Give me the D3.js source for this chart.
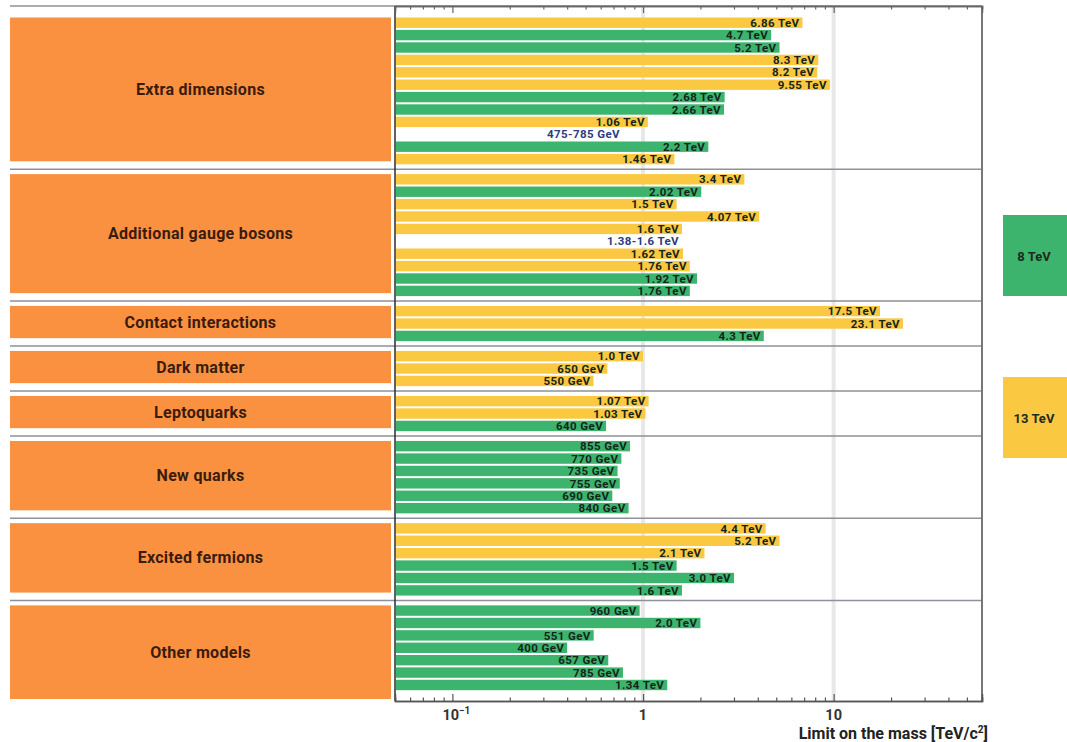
<!DOCTYPE html>
<html>
<head>
<meta charset="utf-8">
<script src="https://cdn.jsdelivr.net/npm/d3@7"></script>
<style>
  body { margin: 0; background: #fff; }
  text { font-family: Roboto, "Liberation Sans", sans-serif; }
</style>
</head>
<body>
<div id="chart"></div>
<script>
// categories and how many limits each one has
var sectionNames = ["Extra dimensions", "Additional gauge bosons", "Contact interactions",
  "Dark matter", "Leptoquarks", "New quarks", "Excited fermions", "Other models"];
var sectionSizes = [12, 10, 3, 3, 3, 6, 6, 7];

// mass limits in TeV (flat, in the order shown, top to bottom)
var masses = [6.86, 4.7, 5.2, 8.3, 8.2, 9.55, 2.68, 2.66, 1.06, 0.785, 2.2, 1.46,
  3.4, 2.02, 1.5, 4.07, 1.6, 1.6, 1.62, 1.76, 1.92, 1.76,
  17.5, 23.1, 4.3,
  1.0, 0.65, 0.55,
  1.07, 1.03, 0.64,
  0.855, 0.77, 0.735, 0.755, 0.69, 0.84,
  4.4, 5.2, 2.1, 1.5, 3.0, 1.6,
  0.96, 2.0, 0.551, 0.4, 0.657, 0.785, 1.34];

// collision energy: 13 or 8 TeV, 0 = excluded range
var energies = [13, 8, 8, 13, 13, 13, 8, 8, 13, 0, 8, 13,
  13, 8, 13, 13, 13, 0, 13, 13, 8, 8,
  13, 13, 8,
  13, 13, 13,
  13, 13, 8,
  8, 8, 8, 8, 8, 8,
  13, 13, 13, 8, 8, 8,
  8, 8, 8, 8, 8, 8, 8];

var massLabels = ["6.86 TeV", "4.7 TeV", "5.2 TeV", "8.3 TeV", "8.2 TeV", "9.55 TeV", "2.68 TeV", "2.66 TeV", "1.06 TeV", "475-785 GeV", "2.2 TeV", "1.46 TeV",
  "3.4 TeV", "2.02 TeV", "1.5 TeV", "4.07 TeV", "1.6 TeV", "1.38-1.6 TeV", "1.62 TeV", "1.76 TeV", "1.92 TeV", "1.76 TeV",
  "17.5 TeV", "23.1 TeV", "4.3 TeV",
  "1.0 TeV", "650 GeV", "550 GeV",
  "1.07 TeV", "1.03 TeV", "640 GeV",
  "855 GeV", "770 GeV", "735 GeV", "755 GeV", "690 GeV", "840 GeV",
  "4.4 TeV", "5.2 TeV", "2.1 TeV", "1.5 TeV", "3.0 TeV", "1.6 TeV",
  "960 GeV", "2.0 TeV", "551 GeV", "400 GeV", "657 GeV", "785 GeV", "1.34 TeV"];

var legendLabels = ["8 TeV", "13 TeV"];
var majorTicks = [0.1, 1, 10];
var minorTicks = [0.05, 0.06, 0.07, 0.08, 0.09, 0.2, 0.3, 0.4, 0.5, 0.6, 0.7, 0.8, 0.9,
  2, 3, 4, 5, 6, 7, 8, 9, 20, 30, 40, 50, 60];

var svgWidth = 1067;
var svgHeight = 742;
var colors = { 8: "#3db46e", 13: "#fbc842", 0: "#ffffff" };
var orange = "#fa9141";

var plotLeft = 395, plotRight = 982, plotTop = 6, plotBottom = 701;
var pitch = 12.4, barH = 10.4, gapSlots = 0.63;

var svg = d3.select("#chart").append("svg")
  .attr("width", svgWidth)
  .attr("height", svgHeight);

svg.append("rect").attr("width", svgWidth).attr("height", svgHeight).attr("fill", "#fff");

// flatten into rows with slot positions
var rows = [];
var k = 0;
sectionSizes.forEach(function(n, s) {
  for (var j = 0; j < n; j++) {
    rows.push({ section: s, slot: k + s * gapSlots, mass: masses[k], energy: energies[k], label: massLabels[k] });
    k++;
  }
});
var totalSlots = rows.length + (sectionSizes.length - 1) * gapSlots;

var x = d3.scaleLog().domain([0.05, 60]).range([plotLeft, plotRight]);
var y = d3.scaleLinear().domain([0, totalSlots]).range([17.5, 17.5 + totalSlots * pitch]);

// grid lines at 1 and 10
svg.selectAll(".grid")
  .data([1, 10])
  .enter().append("rect")
  .attr("x", d => x(d) - 2)
  .attr("y", plotTop)
  .attr("width", 4)
  .attr("height", plotBottom - plotTop)
  .attr("fill", "#e8e8e8");

// section boxes and separators
var sections = sectionNames.map(function(name, s) {
  var r = rows.filter(d => d.section === s);
  return { name: name, top: y(r[0].slot), bottom: y(r[r.length - 1].slot) + barH };
});

var sepYs = [plotTop];
for (var s = 1; s < sections.length; s++) {
  sepYs.push((sections[s - 1].bottom + sections[s].top) / 2);
}

svg.selectAll(".sep")
  .data(sepYs)
  .enter().append("line")
  .attr("x1", 10).attr("x2", plotRight)
  .attr("y1", d => d).attr("y2", d => d)
  .attr("stroke", "#8e9199")
  .attr("stroke-width", 1.5);

var boxBottom = (d, i) => i === sections.length - 1 ? plotBottom - 2 : d.bottom - 3;

svg.selectAll(".cat")
  .data(sections)
  .enter().append("rect")
  .attr("x", 10)
  .attr("y", d => d.top)
  .attr("width", 381)
  .attr("height", (d, i) => boxBottom(d, i) - d.top)
  .attr("fill", orange);

svg.selectAll(".catLabel")
  .data(sections)
  .enter().append("text")
  .attr("x", 200.5)
  .attr("y", (d, i) => (d.top + boxBottom(d, i)) / 2)
  .attr("dy", "0.35em")
  .attr("text-anchor", "middle")
  .attr("font-size", "16px")
  .attr("font-weight", "bold")
  .attr("letter-spacing", "0.3px")
  .attr("fill", "#3a1c0c")
  .text(d => d.name);

// bars
svg.selectAll(".bar")
  .data(rows)
  .enter().append("rect")
  .attr("x", plotLeft + 1)
  .attr("y", d => y(d.slot))
  .attr("width", d => x(d.mass) - plotLeft - 1)
  .attr("height", barH)
  .attr("fill", d => colors[d.energy]);

svg.selectAll(".barLabel")
  .data(rows)
  .enter().append("text")
  .attr("x", d => x(d.mass) - 3)
  .attr("y", d => y(d.slot) + barH / 2)
  .attr("dy", "0.36em")
  .attr("text-anchor", "end")
  .attr("font-size", "11.5px")
  .attr("font-weight", "bold")
  .attr("letter-spacing", "0.4px")
  .attr("fill", d => d.energy === 0 ? "#2c3c80" : "#13251a")
  .text(d => d.label);

// frame
svg.append("line").attr("x1", plotRight).attr("x2", plotRight).attr("y1", plotTop).attr("y2", plotBottom)
  .attr("stroke", "#777").attr("stroke-width", 2);
svg.append("line").attr("x1", plotLeft).attr("x2", plotLeft).attr("y1", plotTop).attr("y2", plotBottom)
  .attr("stroke", "#2a2a3a").attr("stroke-width", 1.5);

// axes (ticks pointing inward)
var bottomMajor = d3.axisBottom(x).tickValues(majorTicks).tickSize(-7).tickFormat(() => "");
var bottomMinor = d3.axisBottom(x).tickValues(minorTicks).tickSize(-3.5).tickFormat(() => "");
var topMajor = d3.axisTop(x).tickValues(majorTicks).tickSize(-7).tickFormat(() => "");
var topMinor = d3.axisTop(x).tickValues(minorTicks).tickSize(-3.5).tickFormat(() => "");

[bottomMajor, bottomMinor].forEach(function(ax) {
  svg.append("g").attr("transform", `translate(0, ${plotBottom})`).call(ax)
    .call(g => g.select(".domain").attr("stroke", "#555").attr("stroke-width", 1.5))
    .call(g => g.selectAll(".tick line").attr("stroke", "#555").attr("stroke-width", 1.2));
});
[topMajor, topMinor].forEach(function(ax) {
  svg.append("g").attr("transform", `translate(0, ${plotTop})`).call(ax)
    .call(g => g.select(".domain").attr("stroke", "#666").attr("stroke-width", 1.5))
    .call(g => g.selectAll(".tick line").attr("stroke", "#666").attr("stroke-width", 1.2));
});

// tick labels
var tickText = svg.selectAll(".tickLabel")
  .data(majorTicks)
  .enter().append("text")
  .attr("x", d => x(d) + (d === 0.1 ? 4 : 0))
  .attr("y", plotBottom + 19)
  .attr("text-anchor", "middle")
  .attr("font-size", "14.5px")
  .attr("font-weight", "bold")
  .attr("fill", "#333");
tickText.each(function(d) {
  var t = d3.select(this);
  if (d === 0.1) {
    t.append("tspan").text("10");
    t.append("tspan").attr("dy", "-6").attr("font-size", "10px").text("\u22121");
  } else {
    t.text(d);
  }
});

var title = svg.append("text")
  .attr("x", 988)
  .attr("y", plotBottom + 38)
  .attr("text-anchor", "end")
  .attr("font-family", "'Open Sans', sans-serif")
  .attr("font-size", "16px")
  .attr("font-weight", "bold")
  .attr("fill", "#222");
title.append("tspan").text("Limit on the mass [TeV/c");
title.append("tspan").attr("dy", "-6").attr("font-size", "10px").text("2");
title.append("tspan").attr("dy", "6").text("]");

// legend
var legendData = [{ label: legendLabels[0], energy: 8, top: 215 }, { label: legendLabels[1], energy: 13, top: 377 }];
svg.selectAll(".legBox")
  .data(legendData)
  .enter().append("rect")
  .attr("x", 1003)
  .attr("y", d => d.top)
  .attr("width", 64)
  .attr("height", 81)
  .attr("fill", d => colors[d.energy]);
svg.selectAll(".legText")
  .data(legendData)
  .enter().append("text")
  .attr("x", 1034)
  .attr("y", d => d.top + 41)
  .attr("dy", "0.35em")
  .attr("text-anchor", "middle")
  .attr("font-size", "13px")
  .attr("font-weight", "bold")
  .attr("fill", "#1e2a20")
  .text(d => d.label);
</script>
</body>
</html>
